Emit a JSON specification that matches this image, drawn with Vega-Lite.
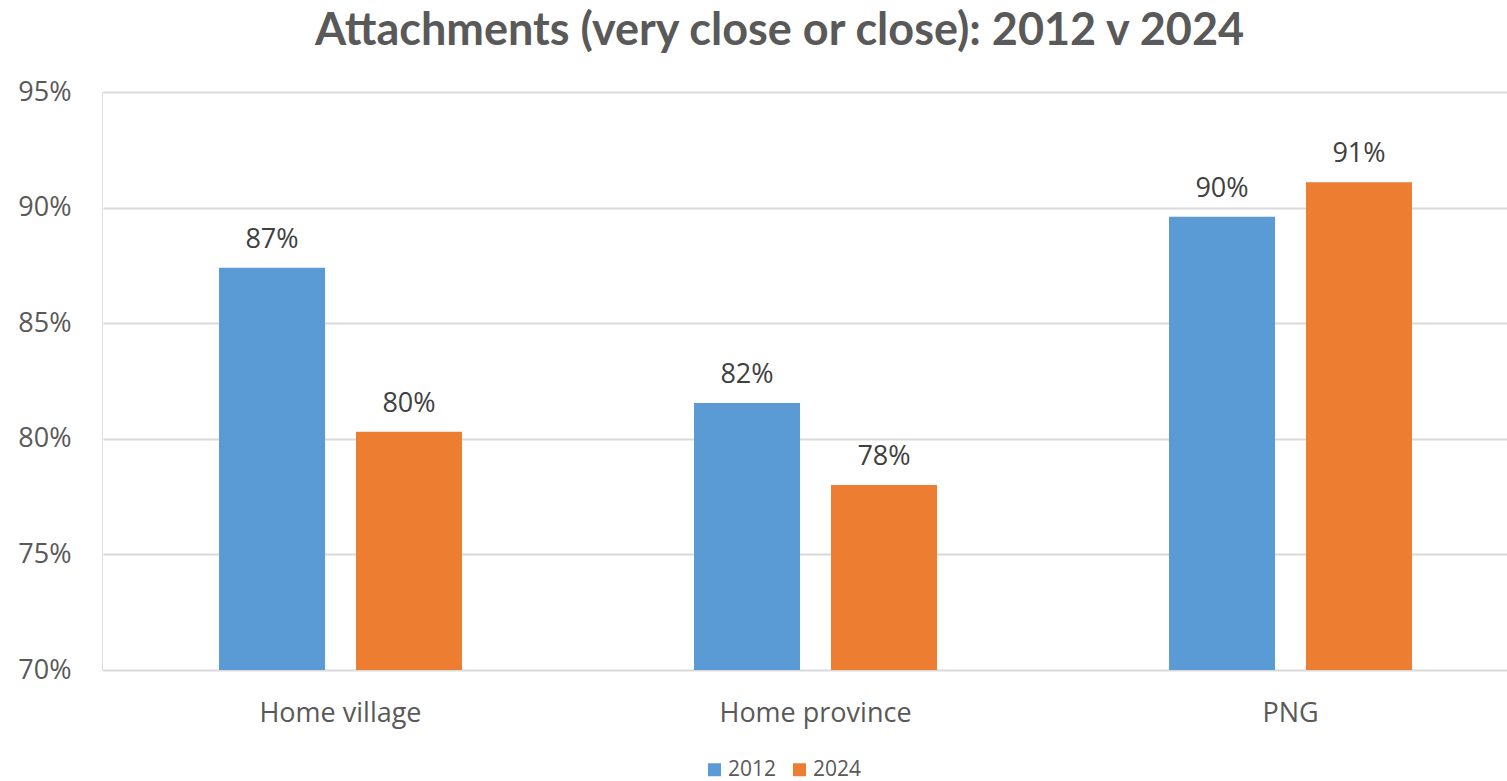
{
  "$schema": "https://vega.github.io/schema/vega-lite/v6.json",
  "autosize": "none",
  "width": 1405,
  "height": 578,
  "padding": {"left": 102, "top": 92, "right": 0, "bottom": 111},
  "background": "white",
  "title": {
    "text": "Attachments (very close or close): 2012 v 2024",
    "font": "Lato",
    "fontWeight": "bold",
    "fontSize": 45,
    "color": "#595959",
    "anchor": "middle",
    "baseline": "bottom",
    "offset": 30,
    "dy": 51,
    "dx": -25
  },
  "data": {
    "values": [
      {"place": "Home village", "year": "2012", "value": 0.874},
      {"place": "Home village", "year": "2024", "value": 0.803},
      {"place": "Home province", "year": "2012", "value": 0.8155},
      {"place": "Home province", "year": "2024", "value": 0.780},
      {"place": "PNG", "year": "2012", "value": 0.896},
      {"place": "PNG", "year": "2024", "value": 0.911}
    ]
  },
  "encoding": {
    "x": {
      "field": "place",
      "type": "nominal",
      "sort": ["Home village", "Home province", "PNG"],
      "scale": {"range": [1, 1426], "paddingInner": 0, "paddingOuter": 0},
      "axis": {
        "title": null,
        "labelAngle": 0,
        "labelFont": "Open Sans",
        "labelFontSize": 27,
        "labelColor": "#595959",
        "labelPadding": 30,
        "labelLimit": 500,
        "ticks": false,
        "domain": false,
        "grid": false
      }
    },
    "xOffset": {
      "field": "year",
      "type": "nominal",
      "scale": {"paddingInner": 0.226, "paddingOuter": 0.847}
    }
  },
  "layer": [
    {
      "mark": {"type": "bar"},
      "encoding": {
        "y": {
          "field": "value",
          "type": "quantitative",
          "scale": {"domain": [0.7, 0.95], "zero": false, "nice": false},
          "axis": {
            "title": null,
            "values": [0.7, 0.75, 0.8, 0.85, 0.9, 0.95],
            "format": ".0%",
            "labelFont": "Open Sans",
            "labelFontSize": 27,
            "labelColor": "#595959",
            "labelPadding": 31,
            "ticks": false,
            "domain": false,
            "grid": true,
            "gridColor": "#d9d9d9",
            "gridWidth": 2
          }
        },
        "y2": {"datum": 0.7},
        "color": {
          "field": "year",
          "type": "nominal",
          "scale": {"domain": ["2012", "2024"], "range": ["#5b9bd5", "#ed7d31"]},
          "legend": {
            "title": null,
            "orient": "none",
            "direction": "horizontal",
            "legendX": 602,
            "legendY": 667,
            "symbolType": "square",
            "symbolSize": 169,
            "symbolStrokeWidth": 0,
            "labelFont": "Open Sans",
            "labelFontSize": 21,
            "labelColor": "#595959",
            "labelOffset": 3,
            "columnPadding": 12
          }
        }
      }
    },
    {
      "mark": {
        "type": "text",
        "baseline": "alphabetic",
        "dy": -20,
        "font": "Open Sans",
        "fontSize": 27,
        "color": "#404040"
      },
      "encoding": {
        "y": {"field": "value", "type": "quantitative"},
        "text": {"field": "value", "type": "quantitative", "format": ".0%"}
      }
    }
  ]
}
